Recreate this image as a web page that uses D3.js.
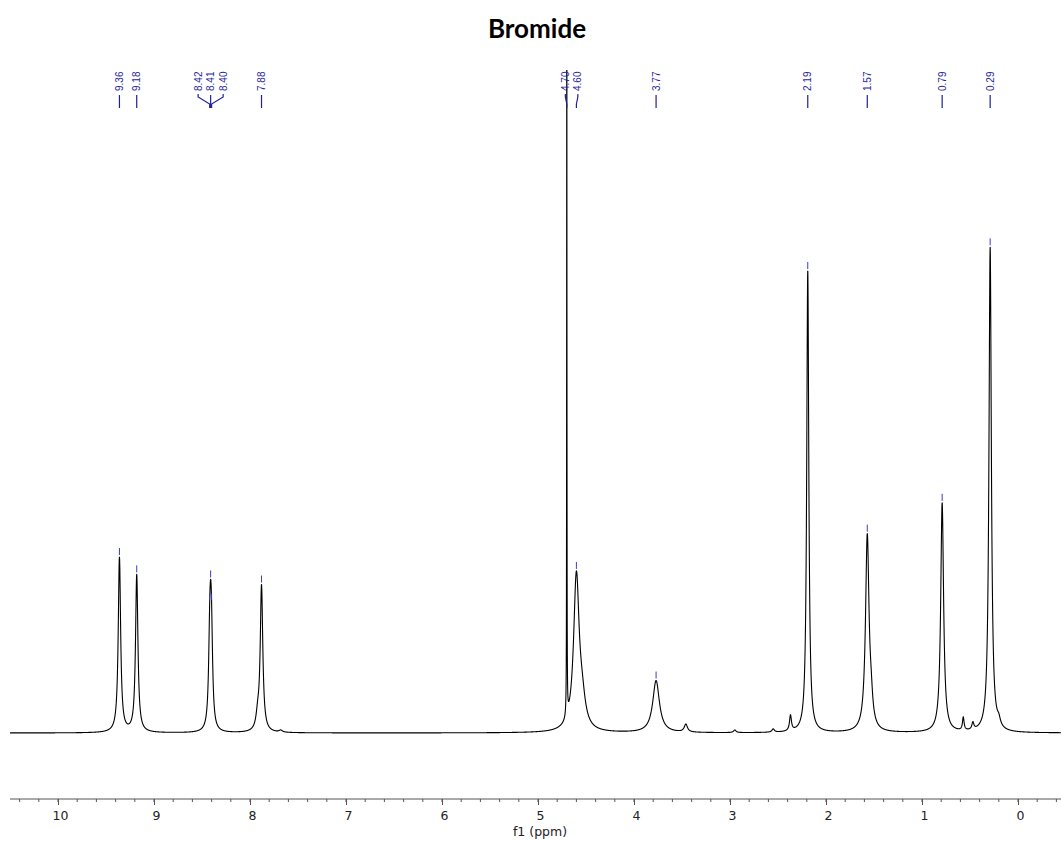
<!DOCTYPE html>
<html>
<head>
<meta charset="utf-8">
<script src="https://cdn.jsdelivr.net/npm/d3@7"></script>
<style>
  body { margin: 0; background: #fff; }
  svg { display: block; }
</style>
</head>
<body>
<svg id="chart" width="1061" height="841"></svg>
<script>
// ---- spectrum data: 1H NMR, chemical shift (ppm), relative intensity, half width (ppm)
const titleText = "Bromide";
const axisTitle = "f1 (ppm)";

// labelled peaks
const peakShift     = [9.36, 9.18, 8.42, 8.41, 8.40, 7.88, 4.70, 4.60, 3.77, 2.19, 1.57, 0.79, 0.29];
const peakHeight    = [26.9, 24.2, 9.8, 10.6, 9.8, 22.4, 130, 23.8, 8.0, 71.0, 30.0, 35.3, 74.6];
const peakHalfWidth = [0.015, 0.015, 0.014, 0.014, 0.014, 0.016, 0.0015, 0.035, 0.042, 0.013, 0.022, 0.018, 0.015];

// small unlabelled signals and shoulders
const minorShift     = [7.92, 7.68, 4.54, 3.46, 2.95, 2.55, 2.37, 1.53, 0.57, 0.47, 0.20];
const minorHeight    = [2.0, 0.3, 3.5, 1.2, 0.4, 0.5, 2.4, 3.0, 2.0, 1.1, 1.0];
const minorHalfWidth = [0.02, 0.02, 0.04, 0.02, 0.015, 0.015, 0.012, 0.02, 0.01, 0.012, 0.02];

const tickValues = [10, 9, 8, 7, 6, 5, 4, 3, 2, 1, 0];

// ---- layout
const svg = d3.select("#chart");

const x = d3.scaleLinear().domain([10.5, -0.45]).range([10, 1061.2]);
const y = d3.scaleLinear().domain([0, 100]).range([733, 83]);

const peaks = peakShift.map((p, i) => ({ppm: p, h: peakHeight[i], g: peakHalfWidth[i]}))
  .concat(minorShift.map((p, i) => ({ppm: p, h: minorHeight[i], g: minorHalfWidth[i]})));

// Lorentzian line shape summed over all signals
function intensity(ppm) {
  let s = 0;
  for (const pk of peaks) {
    const d = ppm - pk.ppm;
    s += pk.h * pk.g * pk.g / (d * d + pk.g * pk.g);
  }
  return s;
}

// sample grid, with every peak centre included exactly
const grid = d3.range(10.5, -0.451, -0.0005).concat(peakShift).sort((a, b) => b - a);
const samples = grid.map(p => [p, intensity(p)]);

// ---- title
svg.append("text")
  .attr("x", 537).attr("y", 38)
  .attr("text-anchor", "middle")
  .style("font-family", "Lato, 'Open Sans', sans-serif")
  .style("font-weight", 700)
  .style("font-size", "26px")
  .attr("fill", "#000")
  .text(titleText);

// ---- spectrum trace
svg.append("defs").append("clipPath").attr("id", "plotClip")
  .append("rect").attr("x", 10).attr("y", 70).attr("width", 1052).attr("height", 700);

svg.append("path")
  .datum(samples)
  .attr("clip-path", "url(#plotClip)")
  .attr("fill", "none")
  .attr("stroke", "#000")
  .attr("stroke-width", 1.1)
  .attr("stroke-linejoin", "round")
  .attr("d", d3.line().x(d => x(d[0])).y(d => y(d[1])));

// ---- peak markers just above each labelled maximum
const markColor = "#3c3cc8";
peakShift.forEach(p => {
  const top = y(intensity(p));
  if (top < 75) return;
  svg.append("line")
    .attr("x1", x(p)).attr("x2", x(p))
    .attr("y1", top - 9).attr("y2", top - 2)
    .attr("stroke", markColor).attr("stroke-width", 1);
});

// ---- peak labels along the top, spread apart where they crowd
const labelColor = "#1f1fa0";
const minGap = 12.5;
const px = peakShift.map(p => x(p));
const groups = [];
px.forEach((v, i) => {
  const g = groups[groups.length - 1];
  if (g && v - px[g[g.length - 1]] < minGap) g.push(i); else groups.push([i]);
});
const labelX = [];
groups.forEach(g => {
  const mean = d3.mean(g, i => px[i]);
  g.forEach((i, k) => { labelX[i] = mean + (k - (g.length - 1) / 2) * minGap; });
});

const labels = svg.append("g");
peakShift.forEach((p, i) => {
  const lx = labelX[i], pxv = px[i];
  labels.append("text")
    .attr("transform", `translate(${lx},91) rotate(-90)`)
    .attr("dy", "0.35em")
    .style("font-family", "'Liberation Sans', Arial, sans-serif")
    .style("font-size", "10px")
    .attr("fill", labelColor)
    .text(p.toFixed(2));
  const path = Math.abs(lx - pxv) < 0.5
    ? `M${pxv},95 L${pxv},108`
    : `M${lx},94 L${lx},97 L${pxv},104 L${pxv},108`;
  labels.append("path")
    .attr("d", path)
    .attr("fill", "none")
    .attr("stroke", labelColor)
    .attr("stroke-width", 1.2);
});

// ---- chemical shift axis
const axisG = svg.append("g").attr("transform", "translate(0,799)");
const minorTicks = d3.range(-40, 106, 2).map(v => v / 10).filter(v => v <= 10.5 && v >= -0.45);
axisG.append("line")
  .attr("x1", 10).attr("x2", 1061).attr("y1", 0).attr("y2", 0)
  .attr("stroke", "#555").attr("stroke-width", 1);
axisG.selectAll("line.minor").data(minorTicks).join("line")
  .attr("class", "minor")
  .attr("x1", d => x(d)).attr("x2", d => x(d))
  .attr("y1", 0).attr("y2", 3)
  .attr("stroke", "#555");

const axis = d3.axisBottom(x).tickValues(tickValues).tickSize(6).tickPadding(6)
  .tickFormat(d3.format("d"));
const ax = axisG.append("g").call(axis);
ax.select(".domain").remove();
ax.selectAll(".tick line").attr("stroke", "#555");
ax.selectAll(".tick text")
  .attr("dx", "2")
  .style("font-family", "'DejaVu Sans', Verdana, sans-serif")
  .style("font-size", "12.5px")
  .attr("fill", "#222");

svg.append("text")
  .attr("x", 540).attr("y", 836)
  .attr("text-anchor", "middle")
  .style("font-family", "'DejaVu Sans', Verdana, sans-serif")
  .style("font-size", "12.5px")
  .attr("fill", "#222")
  .text(axisTitle);
</script>
</body>
</html>
